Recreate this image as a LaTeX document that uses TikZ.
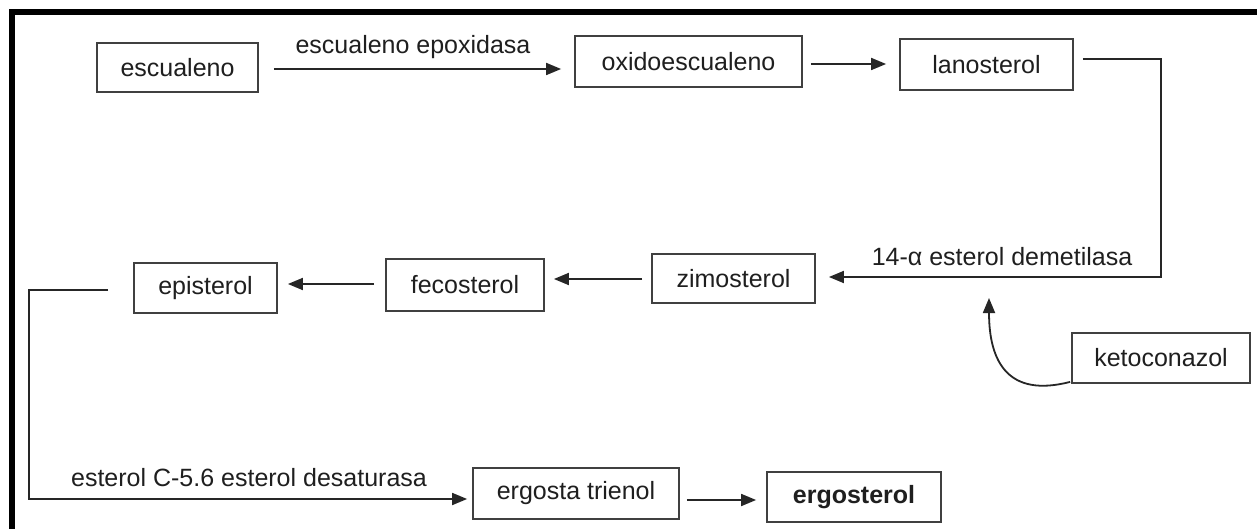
\documentclass[tikz,border=0pt]{standalone}
\usepackage{fontspec}
\setmainfont{Liberation Sans}
\usetikzlibrary{arrows.meta,calc}
\begin{document}
\begin{tikzpicture}[x=1pt,y=-1pt,
  box/.style={draw=black!75, line width=1.8pt, minimum height=50pt, inner sep=0pt,
    text=black!88, font=\fontsize{25}{30}\selectfont},
  arr/.style={draw=black!85, line width=1.8pt, -{Triangle[length=15pt,width=12pt]}},
  lbl/.style={text=black!88, font=\fontsize{25}{30}\selectfont, inner sep=0pt}]
\useasboundingbox (0,0) rectangle (1257,529);
\fill[white] (0,0) rectangle (1257,529);
% frame
\draw[line width=6pt, line join=miter] (11.5,532) -- (11.5,12) -- (1260,12);

% nodes
\node[box, minimum width=161pt, minimum height=49pt] (esc) at (177.5,67.5) {escualeno};
\node[box, minimum width=227pt, minimum height=51pt] (oxi) at (688.5,61.5) {oxidoescualeno};
\node[box, minimum width=173pt, minimum height=51pt] (lano) at (986.5,64.5) {lanosterol};
\node[box, minimum width=163pt, minimum height=49pt] (zimo) at (733.5,278.5) {zimosterol};
\node[box, minimum width=158pt, minimum height=52pt] (feco) at (465,285) {fecosterol};
\node[box, minimum width=143pt, minimum height=50pt] (epi) at (205.5,288) {episterol};
\node[box, minimum width=178pt, minimum height=50pt] (keto) at (1161,358) {ketoconazol};
\node[box, minimum width=206pt, minimum height=51pt] (ergt) at (576,493.5) {ergosta trienol};
\node[box, minimum width=174pt, minimum height=50pt, font=\fontsize{25}{30}\selectfont\bfseries] (ergo) at (854,497) {ergosterol};

% labels
\node[lbl] (epox) at (413,47) {escualeno epoxidasa};
\node[lbl] (dem) at (1002,257) {14-α esterol demetilasa};
\node[lbl] (desat) at (249,478) {esterol C-5.6 esterol desaturasa};
\coordinate (inh) at (989,298);

% connectors
\draw[arr] ($(esc.east)+(15,1.5)$) -- ($(oxi.west)+(-13,7.5)$);
\draw[arr] ($(oxi.east)+(8,2.5)$) -- ($(lano.west)+(-13,-0.5)$);
\draw[arr] ($(lano.east)+(9,-5.5)$) -- ++(78,0) |- ($(zimo.east)+(13,-1.5)$);
\draw[arr] ($(zimo.west)+(-9,0.5)$) -- ($(feco.east)+(9,-6)$);
\draw[arr] ($(feco.west)+(-11,-1)$) -- ($(epi.east)+(10,-4)$);
\draw[arr] ($(epi.west)+(-25,2)$) -- ++(-79,0) |- ($(ergt.west)+(-5,5.5)$);
\draw[arr] ($(ergt.east)+(7,6.5)$) -- ($(ergo.west)+(-10,3)$);
\draw[arr] ($(keto.south west)+(-1,-2)$) .. controls +(-62,16) and +(0,64) .. (inh);
\end{tikzpicture}
\end{document}
